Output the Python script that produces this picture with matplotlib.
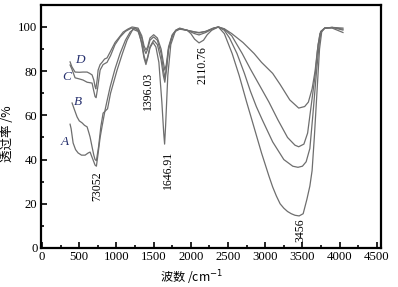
# -*- coding: utf-8 -*-
import matplotlib
matplotlib.use('Agg')
import matplotlib.pyplot as plt
from matplotlib.ticker import MultipleLocator

# ---- data (wavenumber cm-1, transmittance %) ----
wn_A = [376, 390, 417, 450, 484, 530, 578, 620, 645, 672, 695, 712, 730, 750, 780, 806,
        850, 914, 980, 1048, 1120, 1183, 1250, 1300, 1340, 1370, 1396, 1420, 1450, 1490,
        1530, 1570, 1610, 1635, 1647, 1660, 1690, 1730, 1790, 1850, 1950, 2050, 2110, 2200,
        2300, 2370, 2450, 2555, 2650, 2750, 2820, 2950, 3050, 3100, 3150, 3200, 3250, 3300,
        3350, 3400, 3456, 3510, 3560, 3600, 3630, 3660, 3700, 3730, 3760, 3800, 3900, 4045]
tr_A = [56, 54, 47.5, 44.5, 43, 42, 42, 43, 43.4, 41, 39, 37.5, 37, 42, 50, 55,
        63, 72.8, 81, 88, 94, 97.7, 99.5, 98, 92, 86, 83, 86, 90.5, 93,
        91, 84, 66, 52, 47, 55, 78, 92, 98, 99, 98.5, 97.8, 97.5, 98,
        99.5, 100, 97, 88, 78, 66, 58, 43, 32.5, 27.6, 23.5, 20, 18, 16.5,
        15.5, 14.8, 14.5, 15.5, 22, 28, 35, 50, 73, 90, 98, 99.5, 99.5, 97.5]

wn_B = [403, 430, 470, 500, 538, 570, 605, 630, 645, 672, 695, 712, 730, 760, 790, 820,
        850, 880, 920, 1008, 1080, 1142, 1220, 1290, 1340, 1370, 1396, 1420, 1450, 1500,
        1550, 1600, 1630, 1650, 1670, 1700, 1750, 1800, 1850, 1950, 2050, 2110, 2200, 2300,
        2370, 2450, 2520, 2620, 2720, 2800, 2880, 2960, 3100, 3250, 3370, 3440, 3500, 3550,
        3600, 3640, 3690, 3730, 3755, 3800, 3900, 4045]
tr_B = [65.6, 63, 59.3, 57.5, 56.6, 55.5, 54.8, 52, 50.2, 45.7, 42, 40, 39.5, 46, 55, 61,
        62, 63, 70, 80.5, 88, 94, 99, 98, 93, 87, 84, 86.5, 91, 94,
        92, 85, 78, 75, 80, 90, 96, 98.5, 99.2, 98.5, 97.7, 97.3, 98, 99.3,
        100, 98.5, 95, 88, 79, 71, 64, 58, 48, 40, 37, 36.5, 37, 39,
        45, 60, 80, 94, 98, 99.5, 99.8, 99]

wn_C = [376, 400, 443, 500, 550, 605, 640, 672, 695, 712, 726, 745, 780, 820, 873, 920,
        980, 1050, 1120, 1200, 1290, 1340, 1370, 1396, 1420, 1450, 1500, 1550, 1600, 1630,
        1650, 1670, 1700, 1750, 1800, 1850, 1950, 2050, 2110, 2200, 2300, 2370, 2450, 2550,
        2690, 2800, 2900, 3050, 3170, 3300, 3400, 3450, 3520, 3570, 3620, 3670, 3710, 3745,
        3800, 3900, 4045]
tr_C = [82.8, 81, 77, 76.5, 76, 75, 74.8, 74.6, 71, 68.5, 68, 72, 80.5, 83, 84, 87,
        92, 95.5, 98, 99.5, 99, 95, 90, 88, 90, 94, 95.5, 94, 88, 81,
        77, 81, 90, 96, 98.5, 99.3, 98.5, 97, 96.4, 97.5, 99.3, 100, 99, 96,
        88, 81, 75, 66, 58, 50, 46.5, 45.8, 47, 52, 65, 78, 92, 98,
        99.5, 99.8, 98.6]

wn_D = [376, 400, 443, 500, 550, 605, 640, 672, 695, 712, 722, 740, 753, 780, 806, 840,
        873, 920, 981, 1040, 1090, 1150, 1210, 1290, 1340, 1370, 1396, 1420, 1450, 1500,
        1550, 1600, 1630, 1650, 1670, 1700, 1750, 1800, 1850, 1950, 2000, 2050, 2110, 2170,
        2220, 2280, 2370, 2450, 2550, 2700, 2850, 2950, 3100, 3200, 3330, 3450, 3530, 3580,
        3630, 3670, 3700, 3735, 3800, 3900, 4045]
tr_D = [84.2, 82, 79.6, 79.5, 79.6, 79.6, 79, 78.3, 76, 73, 72, 76, 80.5, 83, 84, 85.5,
        86, 89, 93, 95.5, 97.7, 99, 100, 99.5, 96, 91.5, 89.6, 91, 95, 96.5,
        95, 90, 84, 80.5, 83, 91, 96.5, 98.6, 99.5, 98.5, 97, 94.5, 92.8, 94,
        96.5, 98.5, 100, 99.2, 97, 93, 88, 84, 79, 74, 67, 63.3, 64, 66,
        72, 80, 89, 97, 99.5, 99.8, 99.5]

curve_names = ['A', 'B', 'C', 'D']
peak_labels = ['73052', '1396.03', '1646.91', '2110.76', '3456']

# ---- figure ----
fig = plt.figure(figsize=(3.98, 2.87), dpi=100)
ax = fig.add_axes([0.103, 0.136, 0.854, 0.847])

line_col = '#6e6e6e'
for wn, tr in [(wn_A, tr_A), (wn_B, tr_B), (wn_C, tr_C), (wn_D, tr_D)]:
    ax.plot(wn, tr, color=line_col, lw=0.9)

ax.set_xlim(-15, 4555)
ax.set_ylim(0, 110)
ax.xaxis.set_major_locator(MultipleLocator(500))
ax.xaxis.set_minor_locator(MultipleLocator(250))
ax.set_yticks([0, 20, 40, 60, 80, 100])
ax.yaxis.set_minor_locator(MultipleLocator(10))
ax.tick_params(which='both', direction='in', width=1.2, labelsize=9.2, pad=2.5)
ax.tick_params(which='major', length=4)
ax.tick_params(which='minor', length=2.5)
for lab in ax.get_xticklabels() + ax.get_yticklabels():
    lab.set_fontfamily('Liberation Serif')
for sp in ax.spines.values():
    sp.set_linewidth(1.6)

cjk = ['Noto Sans CJK SC', 'DejaVu Sans']
ax.set_xlabel(r'波数 /cm$^{-1}$', family=cjk, fontsize=8.8)
ax.xaxis.set_label_coords(0.444, -0.085)
ax.set_ylabel('透过率 /%', family=cjk, fontsize=9)
ax.yaxis.set_label_coords(-0.078, 0.47)

# curve letters
letter_pos = {'A': (309, 48), 'B': (484, 66), 'C': (336, 77.4), 'D': (511, 85)}
for name in curve_names:
    x, y = letter_pos[name]
    ax.text(x, y, name, fontsize=9.5, style='italic', family='Liberation Serif',
            color='#26306e', ha='center', va='center')

# peak annotations
peak_pos = [(739, 28), (1425, 71), (1694, 35.3), (2150, 82.8), (3468, 8.1)]
for lab, (x, y) in zip(peak_labels, peak_pos):
    ax.text(x, y, lab, rotation=90, fontsize=8.5, family='Liberation Serif',
            ha='center', va='center')

fig.savefig('out.png', dpi=100)
